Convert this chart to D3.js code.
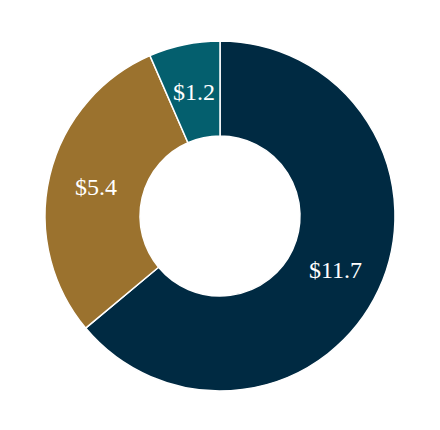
<!DOCTYPE html>
<html><head><meta charset="utf-8">
<script src="https://cdn.jsdelivr.net/npm/d3@7"></script>
<style>html,body{margin:0;padding:0;background:#fff;}</style>
</head><body>
<svg id="c" width="440" height="430"></svg>
<script>
const categories = ["A", "B", "C"];
const values = [11.7, 5.4, 1.2];
const labels = ["$11.7", "$5.4", "$1.2"];
const colors = ["#002a42", "#9b722e", "#045f6e"];

const svg = d3.select("#c");
const cx = 220, cy = 216, rOuter = 175, rInner = 80;
const g = svg.append("g").attr("transform", `translate(${cx},${cy})`);
const pie = d3.pie().sort(null).value(d => d)(values);
const arc = d3.arc().innerRadius(rInner).outerRadius(rOuter);
const labelArc = d3.arc().innerRadius(rInner).outerRadius(rOuter);

g.selectAll("path").data(pie).join("path")
  .attr("d", arc)
  .attr("fill", (d, i) => colors[i])
  .attr("stroke", "#fff")
  .attr("stroke-width", 1.5);

g.selectAll("text").data(pie).join("text")
  .attr("transform", d => `translate(${labelArc.centroid(d)})`)
  .attr("text-anchor", "middle")
  .attr("dy", "0.35em")
  .attr("fill", "#fff")
  .attr("font-family", "'Liberation Serif', 'Times New Roman', serif")
  .attr("font-size", 24)
  .text((d, i) => labels[i]);
</script>
</body></html>
